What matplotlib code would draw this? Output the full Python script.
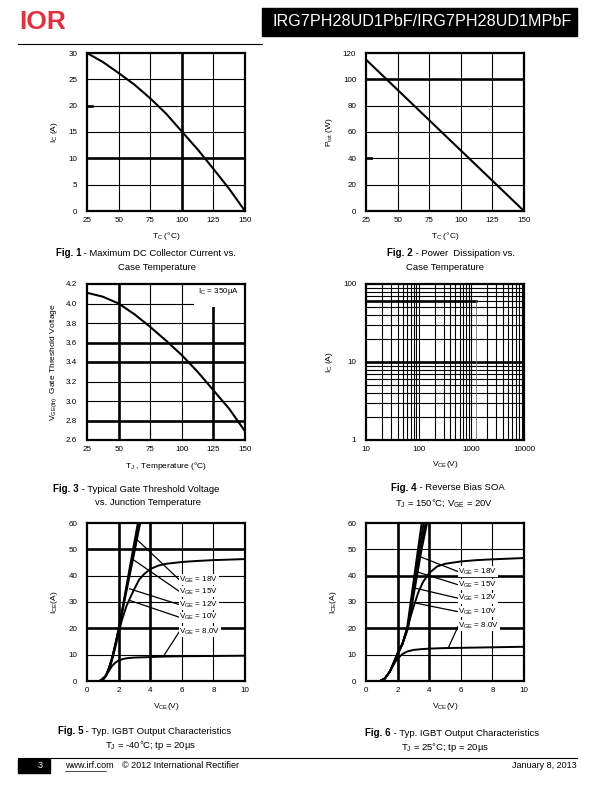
import matplotlib
matplotlib.use('Agg')
import matplotlib.pyplot as plt
from matplotlib.ticker import FixedLocator, NullFormatter, FuncFormatter

plt.rcParams['font.family'] = ['Liberation Sans', 'DejaVu Sans']
plt.rcParams['mathtext.fontset'] = 'custom'
plt.rcParams['mathtext.rm'] = 'Liberation Sans'
plt.rcParams['mathtext.it'] = 'Liberation Sans'
plt.rcParams['mathtext.default'] = 'regular'

# Fig. 1  max DC collector current vs case temperature
tc_1 = [25, 37.5, 50, 62.5, 75, 87.5, 100, 112.5, 125, 137.5, 150]
ic_1 = [30, 28.3, 26.2, 24.0, 21.4, 18.5, 15.1, 11.7, 8.0, 4.2, 0]

# Fig. 2  power dissipation vs case temperature
tc_2 = [25, 150]
ptot_2 = [115, 0]

# Fig. 3  gate threshold voltage vs junction temperature
tj_3 = [25, 37.5, 50, 62.5, 75, 87.5, 100, 112.5, 125, 137.5, 150]
vth_3 = [4.11, 4.07, 4.00, 3.89, 3.76, 3.62, 3.47, 3.30, 3.11, 2.92, 2.69]

# Fig. 4  reverse bias SOA
vce_4 = [10, 1200]
ic_4 = [60, 60]
vce_4_edge = [1200, 1200]
ic_4_edge = [60, 1]

# Fig. 5  output characteristics, Tj = -40 C
vce_5_steep = [0.8, 1.0, 1.2, 1.4, 1.6, 1.8, 2.0, 2.3, 2.6, 2.9, 3.25]
ice_5_18 = [0, 0.5, 2, 5, 9, 14, 19.5, 29.5, 39.5, 49.5, 61]
vce_5_15 = [0.8, 1.0, 1.2, 1.4, 1.6, 1.8, 2.0, 2.32, 2.64, 2.96, 3.32]
ice_5_15 = [0, 0.5, 2, 5, 9, 14, 19.5, 29.5, 39.5, 49.5, 61]
vce_5_12 = [0.8, 1.0, 1.2, 1.4, 1.6, 1.8, 2.0, 2.34, 2.68, 3.02, 3.4]
ice_5_12 = [0, 0.5, 2, 5, 9, 14, 19.5, 29.5, 39.5, 49.5, 61]
vce_5_10 = [0.8, 1.2, 1.5, 1.8, 2.0, 2.2, 2.5, 2.8, 3.0, 3.3, 3.6, 4.0, 4.5, 5, 6, 7, 8, 10]
ice_5_10 = [0, 2, 6, 13, 18, 23, 28.5, 32.5, 35, 38.5, 40.5, 42.5, 43.8, 44.5, 45.2, 45.6, 45.9, 46.3]
vce_5_8 = [0.8, 1.0, 1.2, 1.4, 1.6, 1.8, 2.0, 2.3, 2.6, 3, 4, 5, 6, 8, 10]
ice_5_8 = [0, 0.5, 2, 4, 5.8, 7, 7.8, 8.4, 8.7, 8.9, 9.1, 9.3, 9.4, 9.5, 9.6]

# Fig. 6  output characteristics, Tj = 25 C
ice_6_steep = [0, 1, 3.5, 7.5, 10.5, 14, 20, 30, 40, 50, 61]
vce_6_18 = [0.9, 1.2, 1.5, 1.8, 2.0, 2.3, 2.6, 2.83, 3.06, 3.29, 3.55]
vce_6_15 = [0.9, 1.2, 1.5, 1.8, 2.0, 2.3, 2.62, 2.87, 3.12, 3.37, 3.68]
vce_6_12 = [0.9, 1.2, 1.5, 1.8, 2.0, 2.3, 2.64, 2.91, 3.18, 3.45, 3.8]
vce_6_10 = [0.9, 1.2, 1.5, 1.8, 2.0, 2.3, 2.66, 2.94, 3.23, 3.52, 3.9]
vce_6_sat = [0.9, 1.2, 1.5, 1.8, 2.0, 2.3, 2.6, 3.0, 3.3, 3.6, 4.0, 4.5, 5, 6, 7, 8, 10]
ice_6_sat = [0, 1, 3.5, 7, 10, 14, 20, 28, 33.5, 37.5, 41, 43.5, 44.5, 45.4, 45.9, 46.2, 46.7]
vce_6_8 = [0.9, 1.2, 1.5, 1.8, 2.0, 2.3, 2.6, 3, 3.5, 4, 5, 6, 8, 10]
ice_6_8 = [0, 1, 3.5, 6.8, 8.5, 10.2, 11.2, 11.8, 12.1, 12.3, 12.5, 12.6, 12.8, 13.0]

vge_labels = ['18V', '15V', '12V', '10V', '8.0V']
# leader lines: point on curve -> label anchor
lead_5_from = [(3.2, 53.5), (2.95, 46), (2.7, 35), (2.75, 30.5), (4.85, 9.5)]
lead_5_label_y = [38.4, 34.0, 29.0, 24.2, 18.8]
lead_6_from = [(3.3, 47.5), (3.2, 41.5), (2.95, 35.5), (2.8, 30), (5.2, 12.5)]
lead_6_label_y = [41.5, 36.5, 31.4, 26.3, 21.0]

W, H = 612, 792
fig = plt.figure(figsize=(W / 100, H / 100), dpi=100)


def px_axes(l, t, r, b):
    return fig.add_axes([l / W, 1 - b / H, (r - l) / W, (b - t) / H])


def ftext(x, y, s, **kw):
    kw.setdefault('va', 'center')
    kw.setdefault('fontsize', 6.8)
    return fig.text(x / W, 1 - y / H, s, **kw)


def style(ax):
    for sp in ax.spines.values():
        sp.set_linewidth(1.6)
    ax.tick_params(length=0, labelsize=5.8, pad=4)
    ax.tick_params(axis='y', pad=7)


def grid(ax, xs, ys, thick_x=(), thick_y=()):
    for x in xs:
        ax.axvline(x, color='k', lw=1.9 if x in thick_x else 0.8, zorder=1)
    for y in ys:
        ax.axhline(y, color='k', lw=1.9 if y in thick_y else 0.8, zorder=1)


def caption(xs, y, num, rest, line2, x2):
    ftext(xs, y, 'Fig. %d' % num, ha='right', fontweight='bold', fontsize=7)
    ftext(xs, y, ' - ' + rest, ha='left')
    ftext(x2, y + 14, line2, ha='center')


# ---- header ----
ftext(19, 22, 'IOR', ha='left', fontsize=19, fontweight='bold', color='#e2313c')
fig.patches.append(plt.Rectangle((262 / W, 1 - 36 / H), 315 / W, 28 / H,
                                 transform=fig.transFigure, color='black'))
ftext(572, 22, 'IRG7PH28UD1PbF/IRG7PH28UD1MPbF', ha='right', fontsize=11.6,
      color='white')
fig.add_artist(plt.Line2D([18 / W, 262 / W], [1 - 44 / H, 1 - 44 / H], color='k', lw=0.8))

# ---- Fig. 1 ----
ax = px_axes(87, 53, 245, 211)
style(ax)
ax.set_xlim(25, 150)
ax.set_ylim(0, 30)
ax.set_xticks([25, 50, 75, 100, 125, 150])
ax.set_yticks([0, 5, 10, 15, 20, 25, 30])
grid(ax, [50, 75, 100, 125], [5, 10, 15, 20, 25], thick_x=[100], thick_y=[10])
ax.axhline(20, xmax=0.03, color='k', lw=1.9)
ax.plot(tc_1, ic_1, color='k', lw=1.5, zorder=3)
ax.set_xlabel('T$_C$ (°C)', fontsize=6, labelpad=5)
ax.set_ylabel('I$_C$ (A)', fontsize=6, labelpad=6)
caption(81, 253, 1, 'Maximum DC Collector Current vs.', 'Case Temperature', 157)

# ---- Fig. 2 ----
ax = px_axes(366, 53, 524, 211)
style(ax)
ax.set_xlim(25, 150)
ax.set_ylim(0, 120)
ax.set_xticks([25, 50, 75, 100, 125, 150])
ax.set_yticks([0, 20, 40, 60, 80, 100, 120])
grid(ax, [50, 75, 100, 125], [20, 40, 60, 80, 100], thick_y=[100])
ax.axhline(40, xmax=0.03, color='k', lw=1.9)
ax.plot(tc_2, ptot_2, color='k', lw=1.5, zorder=3)
ax.set_xlabel('T$_C$ (°C)', fontsize=6, labelpad=5)
ax.set_ylabel('P$_{tot}$ (W)', fontsize=6, labelpad=6)
caption(413, 253, 2, 'Power  Dissipation vs.', 'Case Temperature', 445)

# ---- Fig. 3 ----
ax = px_axes(87, 284, 245, 440)
style(ax)
ax.set_xlim(25, 150)
ax.set_ylim(2.6, 4.2)
ax.set_xticks([25, 50, 75, 100, 125, 150])
ax.set_yticks([2.6, 2.8, 3.0, 3.2, 3.4, 3.6, 3.8, 4.0, 4.2])
ax.yaxis.set_major_formatter(FuncFormatter(lambda v, p: '%.1f' % v))
grid(ax, [50, 75, 100, 125], [2.8, 3.0, 3.2, 3.4, 3.6, 3.8, 4.0],
     thick_x=[50, 125], thick_y=[2.8, 3.4, 3.6])
ax.axvline(75, ymax=0.06, color='k', lw=0.8)
ax.add_patch(plt.Rectangle((110, 3.96), 40, 0.24, facecolor='white',
                           edgecolor='none', zorder=2))
ax.text(113, 4.12, 'I$_C$ = 350µA', fontsize=5.8, va='center', zorder=4)
ax.plot(tj_3, vth_3, color='k', lw=1.5, zorder=3)
ax.set_xlabel('T$_J$ , Temperature (°C)', fontsize=6, labelpad=5)
ax.set_ylabel('V$_{GE(th)}$  Gate Threshold Voltage', fontsize=6, labelpad=5)
caption(79, 489, 3, 'Typical Gate Threshold Voltage', 'vs. Junction Temperature', 148)

# ---- Fig. 4 ----
ax = px_axes(366, 284, 524, 440)
style(ax)
ax.set_xscale('log')
ax.set_yscale('log')
ax.set_xlim(10, 10000)
ax.set_ylim(1, 100)
ax.xaxis.set_major_locator(FixedLocator([10, 100, 1000, 10000]))
ax.yaxis.set_major_locator(FixedLocator([1, 10, 100]))
ax.xaxis.set_major_formatter(FuncFormatter(lambda v, p: '%d' % v))
ax.yaxis.set_major_formatter(FuncFormatter(lambda v, p: '%d' % v))
ax.xaxis.set_minor_formatter(NullFormatter())
ax.yaxis.set_minor_formatter(NullFormatter())
ax.tick_params(which='minor', length=0)
xg = [m * d for d in (10, 100, 1000) for m in range(1, 10)][1:]
yg = [m * d for d in (1, 10) for m in range(1, 10)][1:]
grid(ax, xg, yg, thick_y=[10])
ax.plot(vce_4, ic_4, color='k', lw=1.9, zorder=3)
ax.plot(vce_4_edge, ic_4_edge, color='0.45', lw=0.6, zorder=3)
ax.set_xlabel('V$_{CE}$(V)', fontsize=6, labelpad=5)
ax.set_ylabel('I$_C$ (A)', fontsize=6, labelpad=6)
ftext(417, 488, 'Fig. 4', ha='right', fontweight='bold', fontsize=7)
ftext(417, 488, ' - Reverse Bias SOA', ha='left')
ftext(444, 503, 'T$_J$ = 150°C; V$_{GE}$ = 20V', ha='center')


# ---- Fig. 5 / Fig. 6 ----
def output_chart(ax, curves, lead_from, label_y, thick_x, thick_y):
    style(ax)
    ax.set_xlim(0, 10)
    ax.set_ylim(0, 60)
    ax.set_xticks([0, 2, 4, 6, 8, 10])
    ax.set_yticks([0, 10, 20, 30, 40, 50, 60])
    grid(ax, [2, 4, 6, 8], [10, 20, 30, 40, 50], thick_x=thick_x, thick_y=thick_y)
    for xs, ys in curves:
        ax.plot(xs, ys, color='k', lw=1.4, zorder=3)
    for (x0, y0), yl, lab in zip(lead_from, label_y, vge_labels):
        ax.plot([x0, 5.85], [y0, yl], color='k', lw=0.9, zorder=3)
        ax.text(5.85, yl, '$V_{GE}$ = ' + lab, fontsize=5.8, va='center', ha='left',
                zorder=4, bbox=dict(facecolor='white', edgecolor='none', pad=0.3))
    ax.set_xlabel('V$_{CE}$(V)', fontsize=6, labelpad=5)
    ax.set_ylabel('I$_{CE}$(A)', fontsize=6, labelpad=6)


ax = px_axes(87, 523, 245, 681)
output_chart(ax, [(vce_5_steep, ice_5_18), (vce_5_15, ice_5_15), (vce_5_12, ice_5_12),
                  (vce_5_10, ice_5_10), (vce_5_8, ice_5_8)],
             lead_5_from, lead_5_label_y, thick_x=[2, 4], thick_y=[20, 50])
caption(83, 731, 5, 'Typ. IGBT Output Characteristics', 'T$_J$ = -40°C; tp = 20µs', 151)

ax = px_axes(366, 523, 524, 681)
output_chart(ax, [(vce_6_18, ice_6_steep), (vce_6_15, ice_6_steep), (vce_6_12, ice_6_steep),
                  (vce_6_10, ice_6_steep), (vce_6_sat, ice_6_sat), (vce_6_8, ice_6_8)],
             lead_6_from, lead_6_label_y, thick_x=[2, 4], thick_y=[20, 40])
caption(391, 733, 6, 'Typ. IGBT Output Characteristics', 'T$_J$ = 25°C; tp = 20µs', 445)

# ---- footer ----
fig.add_artist(plt.Line2D([18 / W, 577 / W], [1 - 758 / H, 1 - 758 / H], color='k', lw=0.8))
fig.patches.append(plt.Rectangle((18 / W, 1 - 773 / H), 32 / W, 14 / H,
                                 transform=fig.transFigure, color='black'))
ftext(40, 766, '3', ha='center', color='white', fontsize=6.5)
ftext(65, 766, 'www.irf.com', ha='left', fontsize=6.5)
fig.add_artist(plt.Line2D([65 / W, 106 / W], [1 - 771 / H, 1 - 771 / H], color='k', lw=0.5))
ftext(122, 766, '© 2012 International Rectifier', ha='left', fontsize=6.5)
ftext(577, 766, 'January 8, 2013', ha='right', fontsize=6.5)

fig.savefig('out.png', dpi=100)
